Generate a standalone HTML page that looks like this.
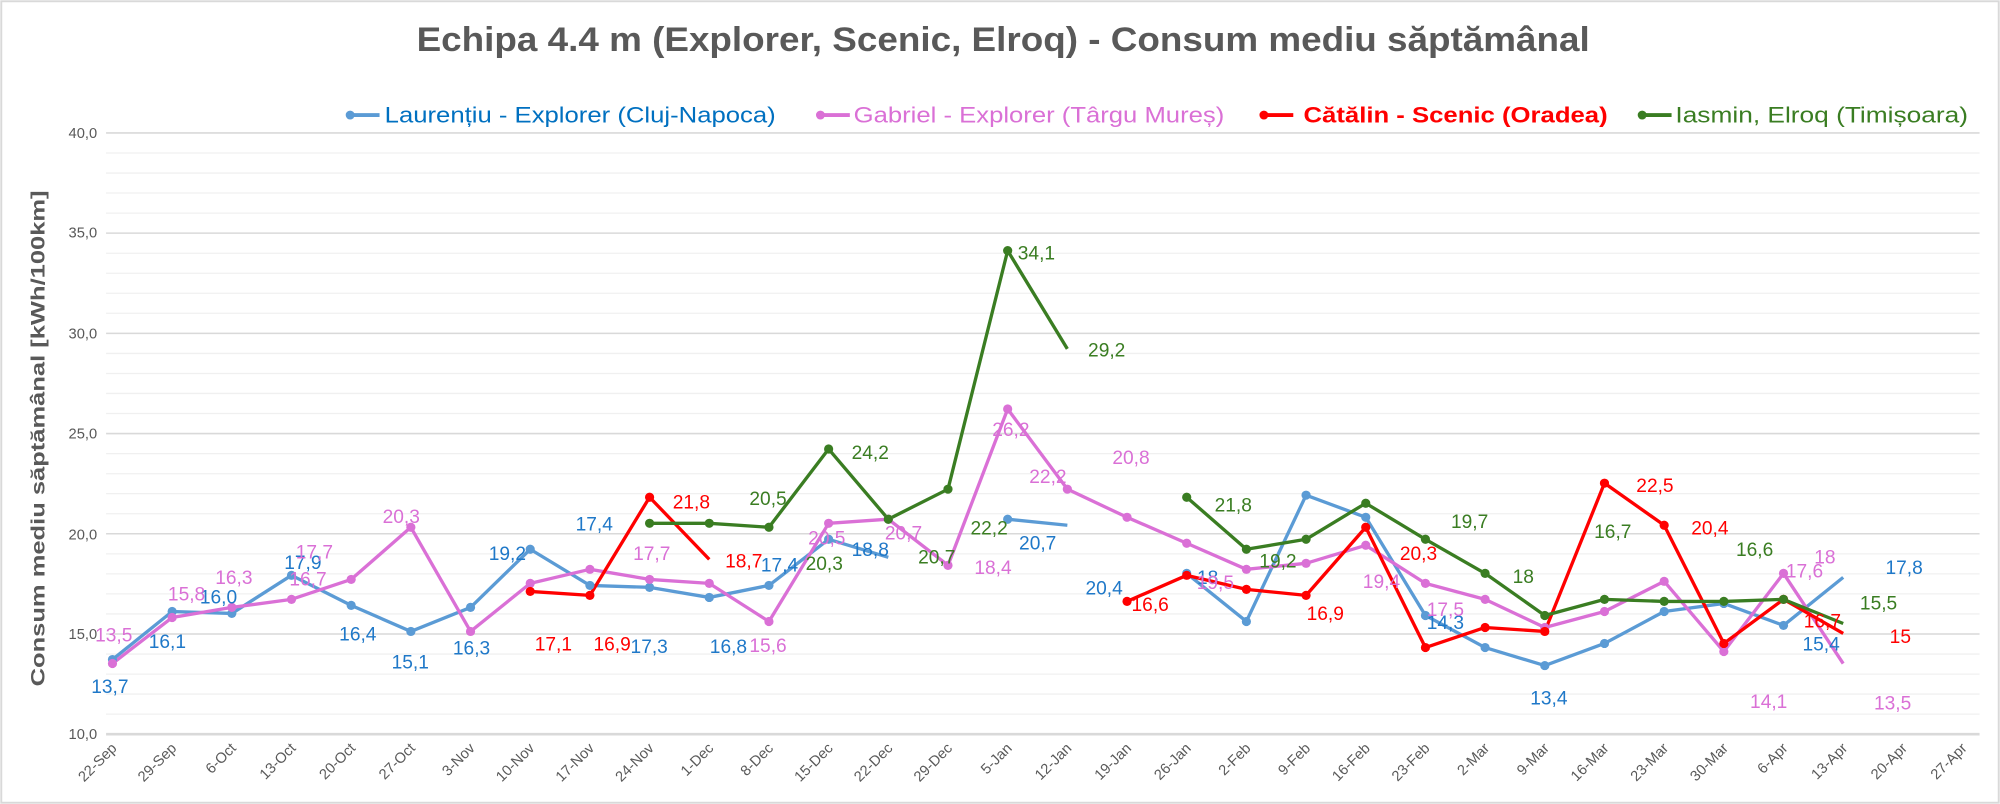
<!DOCTYPE html>
<html><head><meta charset="utf-8"><style>
html,body{margin:0;padding:0;background:#fff;}
svg{display:block;}
text{font-family:"Liberation Sans",sans-serif;}
</style></head><body>
<svg width="2000" height="804" viewBox="0 0 1565 629" preserveAspectRatio="none" xmlns="http://www.w3.org/2000/svg">
<rect x="1" y="1" width="1563" height="627" fill="#fff" stroke="#D9D9D9" stroke-width="1.5"/>
<text x="785" y="40" text-anchor="middle" font-size="27" font-weight="bold" fill="#595959" textLength="918" lengthAdjust="spacingAndGlyphs">Echipa 4.4 m (Explorer, Scenic, Elroq) - Consum mediu săptămânal</text>
<!-- legend -->
<g font-size="17">
<line x1="272" y1="90" x2="297" y2="90" stroke="#5B9BD5" stroke-width="3"/><circle cx="274" cy="90" r="3.5" fill="#5B9BD5"/>
<text x="301" y="96" fill="#0070C0" textLength="306" lengthAdjust="spacingAndGlyphs">Laurențiu - Explorer (Cluj-Napoca)</text>
<line x1="640" y1="90" x2="665" y2="90" stroke="#DA70D6" stroke-width="3"/><circle cx="642" cy="90" r="3.5" fill="#DA70D6"/>
<text x="668" y="96" fill="#DA70D6" textLength="290" lengthAdjust="spacingAndGlyphs">Gabriel - Explorer (Târgu Mureș)</text>
<line x1="987" y1="90" x2="1012" y2="90" stroke="#FF0000" stroke-width="3"/><circle cx="989" cy="90" r="3.5" fill="#FF0000"/>
<text x="1020" y="96" fill="#FF0000" font-weight="bold" textLength="238" lengthAdjust="spacingAndGlyphs">Cătălin - Scenic (Oradea)</text>
<line x1="1283" y1="90" x2="1308" y2="90" stroke="#3A7D22" stroke-width="3"/><circle cx="1285" cy="90" r="3.5" fill="#3A7D22"/>
<text x="1311" y="96" fill="#3A7D22" textLength="229" lengthAdjust="spacingAndGlyphs">Iasmin, Elroq (Timișoara)</text>
</g>
<!-- grid -->
<g stroke="#F0F0F0" stroke-width="1">
<line x1="83" x2="1549" y1="119.7" y2="119.7"/><line x1="83" x2="1549" y1="135.4" y2="135.4"/><line x1="83" x2="1549" y1="151.0" y2="151.0"/><line x1="83" x2="1549" y1="166.7" y2="166.7"/>
<line x1="83" x2="1549" y1="198.1" y2="198.1"/><line x1="83" x2="1549" y1="213.8" y2="213.8"/><line x1="83" x2="1549" y1="229.4" y2="229.4"/><line x1="83" x2="1549" y1="245.1" y2="245.1"/>
<line x1="83" x2="1549" y1="276.5" y2="276.5"/><line x1="83" x2="1549" y1="292.2" y2="292.2"/><line x1="83" x2="1549" y1="307.8" y2="307.8"/><line x1="83" x2="1549" y1="323.5" y2="323.5"/>
<line x1="83" x2="1549" y1="354.9" y2="354.9"/><line x1="83" x2="1549" y1="370.6" y2="370.6"/><line x1="83" x2="1549" y1="386.2" y2="386.2"/><line x1="83" x2="1549" y1="401.9" y2="401.9"/>
<line x1="83" x2="1549" y1="433.3" y2="433.3"/><line x1="83" x2="1549" y1="449.0" y2="449.0"/><line x1="83" x2="1549" y1="464.6" y2="464.6"/><line x1="83" x2="1549" y1="480.3" y2="480.3"/>
<line x1="83" x2="1549" y1="511.7" y2="511.7"/><line x1="83" x2="1549" y1="527.4" y2="527.4"/><line x1="83" x2="1549" y1="543.0" y2="543.0"/><line x1="83" x2="1549" y1="558.7" y2="558.7"/>
</g>
<g stroke="#D9D9D9" stroke-width="1.2">
<line x1="83" x2="1549" y1="104" y2="104"/><line x1="83" x2="1549" y1="182.4" y2="182.4"/><line x1="83" x2="1549" y1="260.8" y2="260.8"/><line x1="83" x2="1549" y1="339.2" y2="339.2"/><line x1="83" x2="1549" y1="417.6" y2="417.6"/><line x1="83" x2="1549" y1="496" y2="496"/><line x1="83" x2="1549" y1="574.4" y2="574.4" stroke-width="2"/>
</g>
<g font-size="11.5" fill="#595959" text-anchor="end">
<text x="76" y="108">40,0</text><text x="76" y="186">35,0</text><text x="76" y="265">30,0</text><text x="76" y="343">25,0</text><text x="76" y="422">20,0</text><text x="76" y="500">15,0</text><text x="76" y="578">10,0</text>
</g>
<text transform="translate(35,343) rotate(-90)" text-anchor="middle" font-size="15.5" font-weight="bold" fill="#595959" textLength="388" lengthAdjust="spacingAndGlyphs">Consum mediu săptămânal [kWh/100km]</text>
<!-- x labels -->
<g font-size="11.5" fill="#595959" text-anchor="end">
<text transform="translate(92,586) rotate(-45)">22-Sep</text>
<text transform="translate(138.7,586) rotate(-45)">29-Sep</text>
<text transform="translate(185.4,586) rotate(-45)">6-Oct</text>
<text transform="translate(232.1,586) rotate(-45)">13-Oct</text>
<text transform="translate(278.8,586) rotate(-45)">20-Oct</text>
<text transform="translate(325.5,586) rotate(-45)">27-Oct</text>
<text transform="translate(372.2,586) rotate(-45)">3-Nov</text>
<text transform="translate(418.9,586) rotate(-45)">10-Nov</text>
<text transform="translate(465.6,586) rotate(-45)">17-Nov</text>
<text transform="translate(512.3,586) rotate(-45)">24-Nov</text>
<text transform="translate(559,586) rotate(-45)">1-Dec</text>
<text transform="translate(605.7,586) rotate(-45)">8-Dec</text>
<text transform="translate(652.4,586) rotate(-45)">15-Dec</text>
<text transform="translate(699.1,586) rotate(-45)">22-Dec</text>
<text transform="translate(745.8,586) rotate(-45)">29-Dec</text>
<text transform="translate(792.5,586) rotate(-45)">5-Jan</text>
<text transform="translate(839.2,586) rotate(-45)">12-Jan</text>
<text transform="translate(885.9,586) rotate(-45)">19-Jan</text>
<text transform="translate(932.6,586) rotate(-45)">26-Jan</text>
<text transform="translate(979.3,586) rotate(-45)">2-Feb</text>
<text transform="translate(1026,586) rotate(-45)">9-Feb</text>
<text transform="translate(1072.7,586) rotate(-45)">16-Feb</text>
<text transform="translate(1119.4,586) rotate(-45)">23-Feb</text>
<text transform="translate(1166.1,586) rotate(-45)">2-Mar</text>
<text transform="translate(1212.8,586) rotate(-45)">9-Mar</text>
<text transform="translate(1259.5,586) rotate(-45)">16-Mar</text>
<text transform="translate(1306.2,586) rotate(-45)">23-Mar</text>
<text transform="translate(1352.9,586) rotate(-45)">30-Mar</text>
<text transform="translate(1399.6,586) rotate(-45)">6-Apr</text>
<text transform="translate(1446.3,586) rotate(-45)">13-Apr</text>
<text transform="translate(1493,586) rotate(-45)">20-Apr</text>
<text transform="translate(1539.7,586) rotate(-45)">27-Apr</text>
</g>
<!-- series -->
<g fill="none" stroke-width="2.6" stroke-linejoin="round">
<polyline stroke="#5B9BD5" points="88,516 134.7,478.4 181.4,479.9 228.1,450.1 274.8,473.6 321.5,494.0 368.2,475.2 414.9,429.7 461.6,458.0 508.3,459.5 555,467.4 601.7,458.0 648.4,421.9 695.1,436.0"/>
<polyline stroke="#5B9BD5" points="788.5,406.2 835.2,410.9"/>
<polyline stroke="#5B9BD5" points="928.6,448.6 975.3,486.2 1022,387.4 1068.7,404.7 1115.4,481.5 1162.1,506.6 1208.8,520.7 1255.5,503.4 1302.2,478.4 1348.9,472.1 1395.6,489.3 1442.3,451.7"/>
<polyline stroke="#DA70D6" points="88,519.1 134.7,483.1 181.4,475.2 228.1,468.9 274.8,453.3 321.5,412.5 368.2,494.0 414.9,456.4 461.6,445.4 508.3,453.3 555,456.4 601.7,486.2 648.4,409.4 695.1,406.2 741.8,442.3 788.5,320.0 835.2,382.7 881.9,404.7 928.6,425.0 975.3,445.4 1022,440.7 1068.7,426.6 1115.4,456.4 1162.1,468.9 1208.8,490.9 1255.5,478.4 1302.2,454.8 1348.9,509.7 1395.6,448.6 1442.3,519.1"/>
<polyline stroke="#FF0000" points="414.9,462.7 461.6,465.8 508.3,389.0 555,437.6"/>
<polyline stroke="#FF0000" points="881.9,470.5 928.6,450.1 975.3,461.1 1022,465.8 1068.7,412.5 1115.4,506.6 1162.1,490.9 1208.8,494.0 1255.5,378.0 1302.2,410.9 1348.9,503.4 1395.6,468.9 1442.3,495.6"/>
<polyline stroke="#3A7D22" points="508.3,409.4 555,409.4 601.7,412.5 648.4,351.3 695.1,406.2 741.8,382.7 788.5,196.1 835.2,272.9"/>
<polyline stroke="#3A7D22" points="928.6,389.0 975.3,429.7 1022,421.9 1068.7,393.7 1115.4,421.9 1162.1,448.6 1208.8,481.5 1255.5,468.9 1302.2,470.5 1348.9,470.5 1395.6,468.9 1442.3,487.8"/>
</g>
<g fill="#5B9BD5">
<circle cx="88" cy="516" r="3.6"/><circle cx="134.7" cy="478.4" r="3.6"/><circle cx="181.4" cy="479.9" r="3.6"/><circle cx="228.1" cy="450.1" r="3.6"/><circle cx="274.8" cy="473.6" r="3.6"/><circle cx="321.5" cy="494" r="3.6"/><circle cx="368.2" cy="475.2" r="3.6"/><circle cx="414.9" cy="429.7" r="3.6"/><circle cx="461.6" cy="458" r="3.6"/><circle cx="508.3" cy="459.5" r="3.6"/><circle cx="555" cy="467.4" r="3.6"/><circle cx="601.7" cy="458" r="3.6"/><circle cx="648.4" cy="421.9" r="3.6"/><circle cx="788.5" cy="406.2" r="3.6"/><circle cx="928.6" cy="448.6" r="3.6"/><circle cx="975.3" cy="486.2" r="3.6"/><circle cx="1022" cy="387.4" r="3.6"/><circle cx="1068.7" cy="404.7" r="3.6"/><circle cx="1115.4" cy="481.5" r="3.6"/><circle cx="1162.1" cy="506.6" r="3.6"/><circle cx="1208.8" cy="520.7" r="3.6"/><circle cx="1255.5" cy="503.4" r="3.6"/><circle cx="1302.2" cy="478.4" r="3.6"/><circle cx="1348.9" cy="472.1" r="3.6"/><circle cx="1395.6" cy="489.3" r="3.6"/>
</g>
<g fill="#DA70D6">
<circle cx="88" cy="519.1" r="3.6"/><circle cx="134.7" cy="483.1" r="3.6"/><circle cx="181.4" cy="475.2" r="3.6"/><circle cx="228.1" cy="468.9" r="3.6"/><circle cx="274.8" cy="453.3" r="3.6"/><circle cx="321.5" cy="412.5" r="3.6"/><circle cx="368.2" cy="494" r="3.6"/><circle cx="414.9" cy="456.4" r="3.6"/><circle cx="461.6" cy="445.4" r="3.6"/><circle cx="508.3" cy="453.3" r="3.6"/><circle cx="555" cy="456.4" r="3.6"/><circle cx="601.7" cy="486.2" r="3.6"/><circle cx="648.4" cy="409.4" r="3.6"/><circle cx="695.1" cy="406.2" r="3.6"/><circle cx="741.8" cy="442.3" r="3.6"/><circle cx="788.5" cy="320" r="3.6"/><circle cx="835.2" cy="382.7" r="3.6"/><circle cx="881.9" cy="404.7" r="3.6"/><circle cx="928.6" cy="425" r="3.6"/><circle cx="975.3" cy="445.4" r="3.6"/><circle cx="1022" cy="440.7" r="3.6"/><circle cx="1068.7" cy="426.6" r="3.6"/><circle cx="1115.4" cy="456.4" r="3.6"/><circle cx="1162.1" cy="468.9" r="3.6"/><circle cx="1208.8" cy="490.9" r="3.6"/><circle cx="1255.5" cy="478.4" r="3.6"/><circle cx="1302.2" cy="454.8" r="3.6"/><circle cx="1348.9" cy="509.7" r="3.6"/><circle cx="1395.6" cy="448.6" r="3.6"/>
</g>
<g fill="#FF0000">
<circle cx="414.9" cy="462.7" r="3.6"/><circle cx="461.6" cy="465.8" r="3.6"/><circle cx="508.3" cy="389" r="3.6"/><circle cx="881.9" cy="470.5" r="3.6"/><circle cx="928.6" cy="450.1" r="3.6"/><circle cx="975.3" cy="461.1" r="3.6"/><circle cx="1022" cy="465.8" r="3.6"/><circle cx="1068.7" cy="412.5" r="3.6"/><circle cx="1115.4" cy="506.6" r="3.6"/><circle cx="1162.1" cy="490.9" r="3.6"/><circle cx="1208.8" cy="494" r="3.6"/><circle cx="1255.5" cy="378" r="3.6"/><circle cx="1302.2" cy="410.9" r="3.6"/><circle cx="1348.9" cy="503.4" r="3.6"/><circle cx="1395.6" cy="468.9" r="3.6"/>
</g>
<g fill="#3A7D22">
<circle cx="508.3" cy="409.4" r="3.6"/><circle cx="555" cy="409.4" r="3.6"/><circle cx="601.7" cy="412.5" r="3.6"/><circle cx="648.4" cy="351.3" r="3.6"/><circle cx="695.1" cy="406.2" r="3.6"/><circle cx="741.8" cy="382.7" r="3.6"/><circle cx="788.5" cy="196.1" r="3.6"/><circle cx="928.6" cy="389" r="3.6"/><circle cx="975.3" cy="429.7" r="3.6"/><circle cx="1022" cy="421.9" r="3.6"/><circle cx="1068.7" cy="393.7" r="3.6"/><circle cx="1115.4" cy="421.9" r="3.6"/><circle cx="1162.1" cy="448.6" r="3.6"/><circle cx="1208.8" cy="481.5" r="3.6"/><circle cx="1255.5" cy="468.9" r="3.6"/><circle cx="1302.2" cy="470.5" r="3.6"/><circle cx="1348.9" cy="470.5" r="3.6"/><circle cx="1395.6" cy="468.9" r="3.6"/>
</g>
<!-- labels -->
<g font-size="15" text-anchor="middle">
<g fill="#1F78C8">
<text x="86" y="542">13,7</text><text x="131" y="507">16,1</text><text x="171" y="472">16,0</text><text x="237" y="445">17,9</text><text x="280" y="501">16,4</text><text x="321" y="523">15,1</text><text x="369" y="512">16,3</text><text x="397" y="438">19,2</text><text x="465" y="415">17,4</text><text x="508" y="511">17,3</text><text x="570" y="511">16,8</text><text x="610" y="447">17,4</text><text x="681" y="435">18,8</text><text x="812" y="430">20,7</text><text x="864" y="465">20,4</text><text x="945" y="457">18</text><text x="1131" y="492">14,3</text><text x="1212" y="551">13,4</text><text x="1425" y="509">15,4</text><text x="1490" y="449">17,8</text>
</g>
<g fill="#DA70D6">
<text x="89" y="502">13,5</text><text x="146" y="470">15,8</text><text x="183" y="457">16,3</text><text x="241" y="458">16,7</text><text x="246" y="437">17,7</text><text x="314" y="409">20,3</text><text x="510" y="438">17,7</text><text x="601" y="510">15,6</text><text x="647" y="426">20,5</text><text x="707" y="422">20,7</text><text x="777" y="449">18,4</text><text x="791" y="341">26,2</text><text x="820" y="378">22,2</text><text x="885" y="363">20,8</text><text x="951" y="461">19,5</text><text x="1081" y="460">19,4</text><text x="1131" y="482">17,5</text><text x="1412" y="452">17,6</text><text x="1384" y="554">14,1</text><text x="1428" y="441">18</text><text x="1481" y="555">13,5</text>
</g>
<g fill="#FF0000">
<text x="433" y="509">17,1</text><text x="479" y="509">16,9</text><text x="541" y="398">21,8</text><text x="582" y="444">18,7</text><text x="900" y="478">16,6</text><text x="1037" y="485">16,9</text><text x="1110" y="438">20,3</text><text x="1295" y="385">22,5</text><text x="1338" y="418">20,4</text><text x="1426" y="491">16,7</text><text x="1487" y="503">15</text>
</g>
<g fill="#3A7D22">
<text x="601" y="395">20,5</text><text x="645" y="446">20,3</text><text x="681" y="359">24,2</text><text x="733" y="441">20,7</text><text x="774" y="418">22,2</text><text x="811" y="203">34,1</text><text x="866" y="279">29,2</text><text x="965" y="400">21,8</text><text x="1000" y="444">19,2</text><text x="1150" y="413">19,7</text><text x="1192" y="456">18</text><text x="1262" y="421">16,7</text><text x="1373" y="435">16,6</text><text x="1470" y="477">15,5</text>
</g>
</g>
</svg>
</body></html>
